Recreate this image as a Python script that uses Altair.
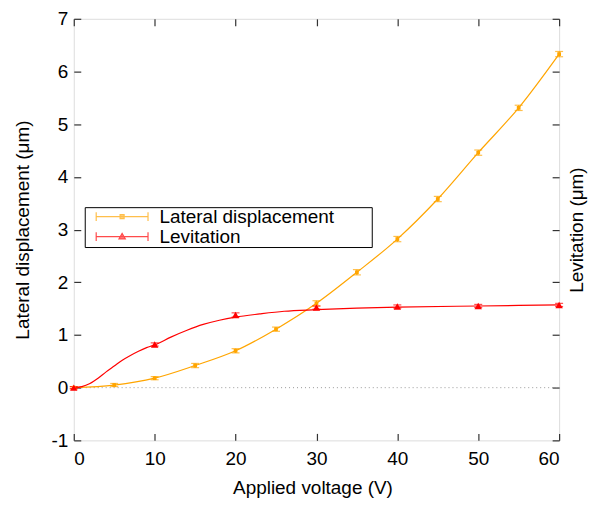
import altair as alt
import pandas as pd

# ---- data ----
series_names = ["Lateral displacement", "Levitation"]

voltage_lat = [0, 5, 10, 15, 20, 25, 30, 35, 40, 45, 50, 55, 60]
lateral = [0.0, 0.05, 0.18, 0.42, 0.70, 1.11, 1.60, 2.19, 2.82, 3.58, 4.46, 5.31, 6.33]
lateral_err = [0.02, 0.03, 0.03, 0.04, 0.04, 0.04, 0.05, 0.05, 0.05, 0.05, 0.05, 0.05, 0.05]

voltage_lev = [0, 10, 20, 30, 40, 50, 60]
levitation = [0.0, 0.82, 1.38, 1.52, 1.54, 1.55, 1.57]
levitation_err = [0.02, 0.03, 0.04, 0.03, 0.03, 0.03, 0.03]

# fitted levitation curve
fit_v = [0, 1, 2, 3, 4, 5, 6, 7, 8, 9, 10, 12, 14, 16, 18, 20, 23, 26, 30, 35, 40, 50, 60]
fit_lev = [0.0, 0.02, 0.08, 0.18, 0.30, 0.41, 0.52, 0.61, 0.69, 0.76, 0.81, 0.96, 1.09,
           1.20, 1.28, 1.34, 1.40, 1.45, 1.48, 1.51, 1.53, 1.55, 1.57]

x_ticks = [0, 10, 20, 30, 40, 50, 60]
y_ticks = [-1, 0, 1, 2, 3, 4, 5, 6, 7]
zero_line_v = [0, 60]
zero_line_d = [0, 0]

ORANGE = "#FFA500"
RED = "#FF0000"
AX = "#333333"
FONT = "Liberation Sans"
FS = 19
W, H = 487, 423

lat_df = pd.DataFrame({
    "v": voltage_lat, "d": lateral,
    "lo": [a - e for a, e in zip(lateral, lateral_err)],
    "hi": [a + e for a, e in zip(lateral, lateral_err)],
})
lev_df = pd.DataFrame({
    "v": voltage_lev, "d": levitation,
    "lo": [a - e for a, e in zip(levitation, levitation_err)],
    "hi": [a + e for a, e in zip(levitation, levitation_err)],
})
fit_df = pd.DataFrame({"v": fit_v, "d": fit_lev})
zero_df = pd.DataFrame({"v": zero_line_v, "d": zero_line_d})
leg_df = pd.DataFrame({"series": series_names})

xs = alt.Scale(domain=[0, 60], nice=False, zero=False)
ys = alt.Scale(domain=[-1, 7], nice=False, zero=False)

def tick_axis(orient, values, offset):
    return alt.Axis(orient=orient, values=values, offset=offset, labels=False, title=None,
                    domain=False, grid=False, ticks=True, tickSize=7, tickColor=AX,
                    tickWidth=1.2)

# zero dotted line + main labelled axes
zero = alt.Chart(zero_df).mark_line(color="#999999", strokeDash=[1, 3], strokeWidth=1).encode(
    x=alt.X("v:Q", scale=xs, axis=alt.Axis(
        orient="bottom", values=x_ticks, title="Applied voltage (V)", ticks=False,
        domain=False, grid=False, labelPadding=9, labelFontSize=FS, labelFont=FONT,
        labelColor="black", labelExpr="datum.value", titleFontSize=FS, titleFont=FONT,
        titleFontWeight="normal", titleColor="black", titleX=W / 2 - 4, titleY=47,
        titleBaseline="middle")),
    y=alt.Y("d:Q", scale=ys, axis=alt.Axis(
        orient="left", values=y_ticks, title="Lateral displacement (μm)", ticks=False,
        domain=False, grid=False, labelPadding=6, labelFontSize=FS, labelFont=FONT,
        labelColor="black", labelExpr="datum.value", titleFontSize=FS, titleFont=FONT,
        titleFontWeight="normal", titleColor="black", titleAngle=270, titleX=-51,
        titleY=H / 2, titleBaseline="middle")),
)

lat_line = alt.Chart(lat_df).mark_line(color=ORANGE, interpolate="monotone", strokeWidth=1.2).encode(
    x=alt.X("v:Q", scale=xs, axis=tick_axis("top", x_ticks, -H)),
    y=alt.Y("d:Q", scale=ys, axis=tick_axis("right", y_ticks, -W)),
)

lev_line = alt.Chart(fit_df).mark_line(color=RED, interpolate="monotone", strokeWidth=1.2).encode(
    x=alt.X("v:Q", scale=xs, axis=tick_axis("bottom", x_ticks, -H)),
    y=alt.Y("d:Q", scale=ys, axis=tick_axis("left", y_ticks, -W)),
)

def errbars(df, color):
    rule = alt.Chart(df).mark_rule(color=color, strokeWidth=1.2).encode(
        x=alt.X("v:Q", scale=xs, axis=None),
        y=alt.Y("lo:Q", scale=ys, axis=None),
        y2="hi:Q",
    )
    caps = alt.Chart(df).transform_fold(["lo", "hi"], as_=["k", "val"]).mark_tick(
        color=color, orient="horizontal", size=8, thickness=1.2).encode(
        x=alt.X("v:Q", scale=xs, axis=None),
        y=alt.Y("val:Q", scale=ys, axis=None),
    )
    return rule + caps

lat_pts = alt.Chart(lat_df).mark_square(color=ORANGE, size=14, opacity=1).encode(
    x=alt.X("v:Q", scale=xs, axis=None),
    y=alt.Y("d:Q", scale=ys, axis=None),
)

lev_pts = alt.Chart(lev_df).mark_point(shape="triangle-up", filled=True, color=RED,
                                       size=55, opacity=1).encode(
    x=alt.X("v:Q", scale=xs, axis=None),
    y=alt.Y("d:Q", scale=ys, axis=alt.Axis(
        orient="right", title="Levitation (μm)", labels=False, ticks=False, domain=False,
        grid=False, titleFontSize=FS, titleFont=FONT, titleFontWeight="normal",
        titleColor="black", titleAngle=270, titleX=17, titleY=H / 2,
        titleBaseline="middle")),
)

# legend symbols: error-bar style line with marker
lat_sym = ("M0.25,0H6.75M0.25,-0.55V0.55M6.75,-0.55V0.55"
           "M3.25,-0.25H3.75V0.25H3.25ZM34.4,0")
lev_sym = ("M0.25,0H6.75M0.25,-0.55V0.55M6.75,-0.55V0.55"
           "M3.1,0.3L3.5,-0.4L3.9,0.3ZM34.4,0")

leg = alt.Legend(orient="none", legendX=11, legendY=189, title=None, padding=0,
                 strokeColor="black", fillColor="white", labelFontSize=FS, labelFont=FONT,
                 labelColor="black", labelLimit=400, symbolSize=256, rowPadding=0,
                 labelOffset=56, symbolStrokeWidth=1.2)

legend_layer = alt.Chart(leg_df).transform_filter("datum.series == 'none'").mark_point(
    filled=True).encode(
    fill=alt.Fill("series:N", scale=alt.Scale(domain=series_names, range=[ORANGE, RED]), legend=leg),
    stroke=alt.Stroke("series:N", scale=alt.Scale(domain=series_names, range=[ORANGE, RED]), legend=leg),
    shape=alt.Shape("series:N", scale=alt.Scale(domain=series_names, range=[lat_sym, lev_sym]), legend=leg),
)

chart = alt.layer(
    zero, lat_line, lev_line,
    errbars(lat_df, ORANGE), errbars(lev_df, RED),
    lat_pts, lev_pts, legend_layer,
).resolve_axis(x="independent", y="independent").properties(
    width=W, height=H,
    autosize=alt.AutoSizeParams(type="none"),
    padding={"left": 66, "top": 10, "right": 35, "bottom": 60},
).configure_view(stroke=AX, strokeWidth=1.2).configure(background="white")

chart.save("out.html", embed_options={"renderer": "svg", "actions": False})
